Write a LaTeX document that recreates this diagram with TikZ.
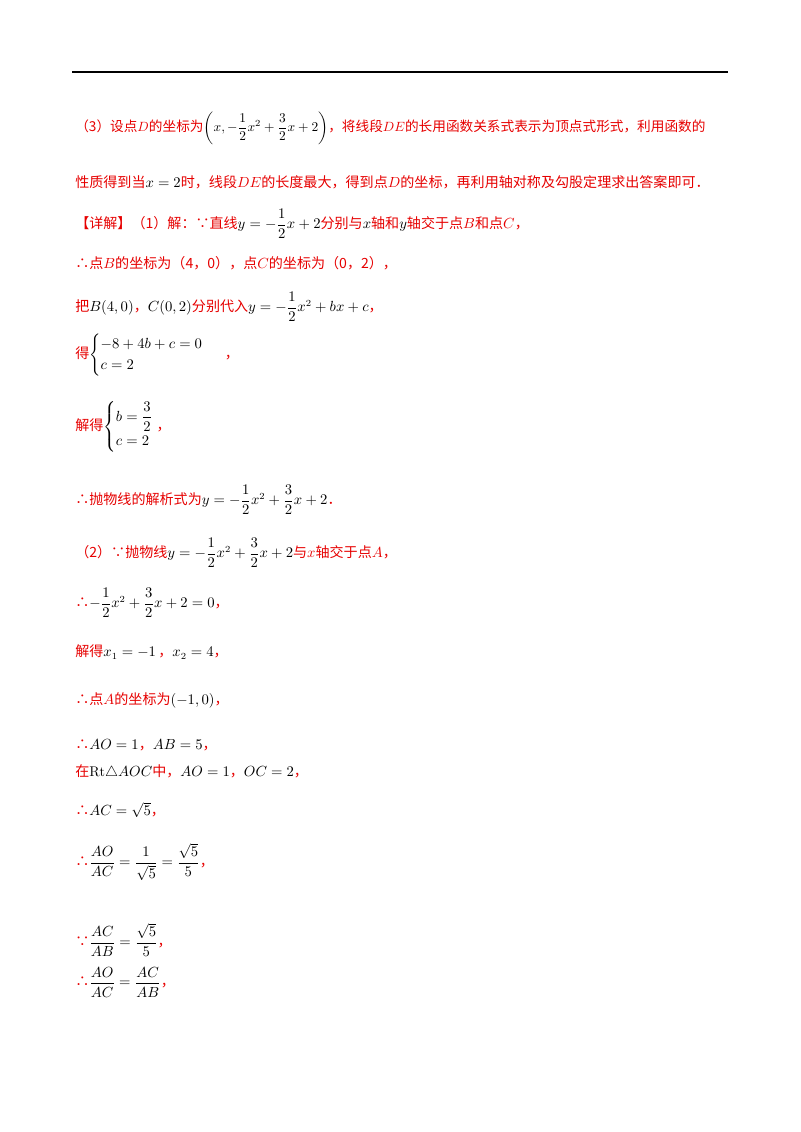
\documentclass[tikz,border=0pt]{standalone}
\usepackage{amsmath,amssymb}
\usepackage{fontspec}
\newfontfamily\cjk{Noto Sans CJK SC}
\definecolor{ansred}{RGB}{230,0,0}
\newcommand{\M}[1]{{\color{black}$#1$}}
\tikzset{
  ln/.style={anchor=west, inner sep=0pt, text=ansred,
    font=\cjk\fontsize{10.5}{13}\selectfont},
}
\begin{document}
\begin{tikzpicture}[x=0.02625cm,y=-0.02625cm]
  \useasboundingbox (0,0) rectangle (800,1132);
  \draw[line width=1pt] (72,72) -- (728,72);

  \node[ln, font=\cjk\fontsize{10.2}{13}\selectfont] (l1) at (75,128) {（3）设点$D$的坐标为\M{\left(x,-\dfrac{1}{2}x^2+\dfrac{3}{2}x+2\right)}，将线段$DE$的长用函数关系式表示为顶点式形式，利用函数的};
  \node[ln] (l2) at (75,182) {性质得到当\M{x=2}时，线段$DE$的长度最大，得到点$D$的坐标，再利用轴对称及勾股定理求出答案即可．};
  \node[ln] (l3) at (75,224) {【详解】（1）解：∵直线\M{y=-\dfrac{1}{2}x+2}分别与\M{x}轴和\M{y}轴交于点$B$和点$C$，};
  \node[ln] (l4) at (75,263) {∴点$B$的坐标为（4，0），点$C$的坐标为（0，2），};
  \node[ln] (l5) at (75,307) {把\M{B(4,0)}，\M{C(0,2)}分别代入\M{y=-\dfrac{1}{2}x^2+bx+c}，};
  \node[ln] (l6) at (75,355) {得\M{\begin{cases}-8+4b+c=0\\ c=2\end{cases}}\hspace{0.5em}，};
  \node[ln] (l7) at (75,427) {解得\M{\begin{cases}b=\dfrac{3}{2}\\ c=2\end{cases}}\hspace{-0.8em}，};
  \node[ln] (l8) at (75,500) {∴抛物线的解析式为\M{y=-\dfrac{1}{2}x^2+\dfrac{3}{2}x+2}．};
  \node[ln] (l9) at (75,553) {（2）∵抛物线\M{y=-\dfrac{1}{2}x^2+\dfrac{3}{2}x+2}与$x$轴交于点$A$，};
  \node[ln] (l10) at (75,603) {∴\M{-\dfrac{1}{2}x^2+\dfrac{3}{2}x+2=0}，};
  \node[ln] (l11) at (75,652) {解得\M{x_1=-1}\,，\M{x_2=4}，};
  \node[ln] (l12) at (75,700) {∴点$A$的坐标为\M{(-1,0)}，};
  \node[ln] (l13) at (75,745) {∴\M{AO=1}，\M{AB=5}，};
  \node[ln] (l14) at (75,772) {在\M{\mathrm{Rt}\triangle AOC}中，\M{AO=1}，\M{OC=2}，};
  \node[ln] (l15) at (75,810) {∴\M{AC=\sqrt{5}}，};
  \node[ln] (l16) at (75,862) {∴\M{\dfrac{AO}{AC}=\dfrac{1}{\sqrt{5}}=\dfrac{\sqrt{5}}{5}}，};
  \node[ln] (l17) at (75,940) {∵\M{\dfrac{AC}{AB}=\dfrac{\sqrt{5}}{5}}，};
  \node[ln] (l18) at (75,982) {∴\M{\dfrac{AO}{AC}=\dfrac{AC}{AB}}，};
\end{tikzpicture}
\end{document}
